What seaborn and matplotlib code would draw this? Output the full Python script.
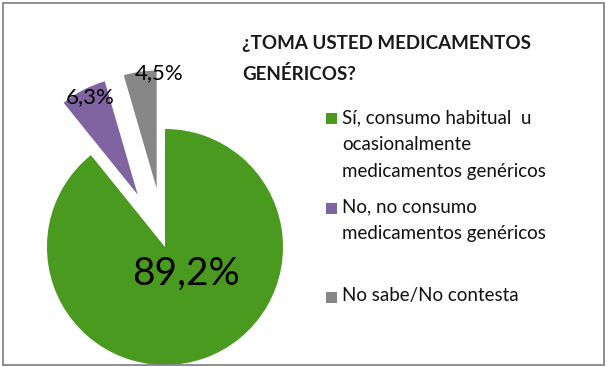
import matplotlib
matplotlib.use("Agg")
import matplotlib.pyplot as plt
from matplotlib.patches import Rectangle
import seaborn as sns

# Datos de la encuesta
categorias = [
    "Sí, consumo habitual  u\nocasionalmente\nmedicamentos genéricos",
    "No, no consumo\nmedicamentos genéricos",
    "No sabe/No contesta",
]
porcentajes = [89.2, 6.3, 4.5]
colores = ["#4A9A20", "#8064A2", "#878787"]
separacion = [0.0, 0.5, 0.5]
titulo = "¿TOMA USTED MEDICAMENTOS\nGENÉRICOS?"


def configurar_estilo():
    sns.set_theme(style="white")
    plt.rcParams["font.family"] = ["Lato", "DejaVu Sans"]


def grafico_genericos():
    fig = plt.figure(figsize=(6.10, 3.67), dpi=100)
    ax = fig.add_axes([0, 0, 1, 1])

    wedges, _ = ax.pie(
        porcentajes,
        colors=colores,
        explode=separacion,
        startangle=90,
        counterclock=False,
        radius=1.0,
        wedgeprops={"linewidth": 0},
    )
    ax.set_aspect("auto")
    ax.set_xlim(-1.398, 3.771)
    ax.set_ylim(-1.017, 2.093)
    ax.axis("off")

    # Etiquetas de porcentaje
    etiquetas = [f"{v:.1f}".replace(".", ",") + "%" for v in porcentajes]
    pos_etiquetas = [(0.18, -0.23), (-0.63, 1.27), (-0.05, 1.47)]
    tamanos = [28, 16, 16]
    for texto, (x, y), t in zip(etiquetas, pos_etiquetas, tamanos):
        ax.text(x, y, texto, ha="center", va="center", fontsize=t, color="black")

    # Titulo
    fig.text(242 / 610, 1 - 35 / 367, titulo, ha="left", va="top",
             fontsize=13.5, fontweight="bold", color="#1a1a1a", linespacing=1.85)

    # Leyenda dibujada a mano (distribucion estilo Excel)
    y_entradas = [119, 208, 297]
    for cat, col, y in zip(categorias, colores, y_entradas):
        fig.patches.append(Rectangle((326 / 610, 1 - (y + 5.5) / 367), 11 / 610, 11 / 367,
                                     transform=fig.transFigure, facecolor=col,
                                     edgecolor="none"))
        fig.text(342 / 610, 1 - (y - 10) / 367, cat, ha="left", va="top",
                 fontsize=13.5, color="#111111", linespacing=1.7)

    # Borde del grafico
    fig.patches.append(Rectangle((3 / 610, 2 / 367), 601 / 610, 362 / 367,
                                 transform=fig.transFigure, fill=False,
                                 edgecolor="#868686", linewidth=1.3))

    fig.savefig("out.png", dpi=100)
    plt.close(fig)


if __name__ == "__main__":
    configurar_estilo()
    grafico_genericos()
